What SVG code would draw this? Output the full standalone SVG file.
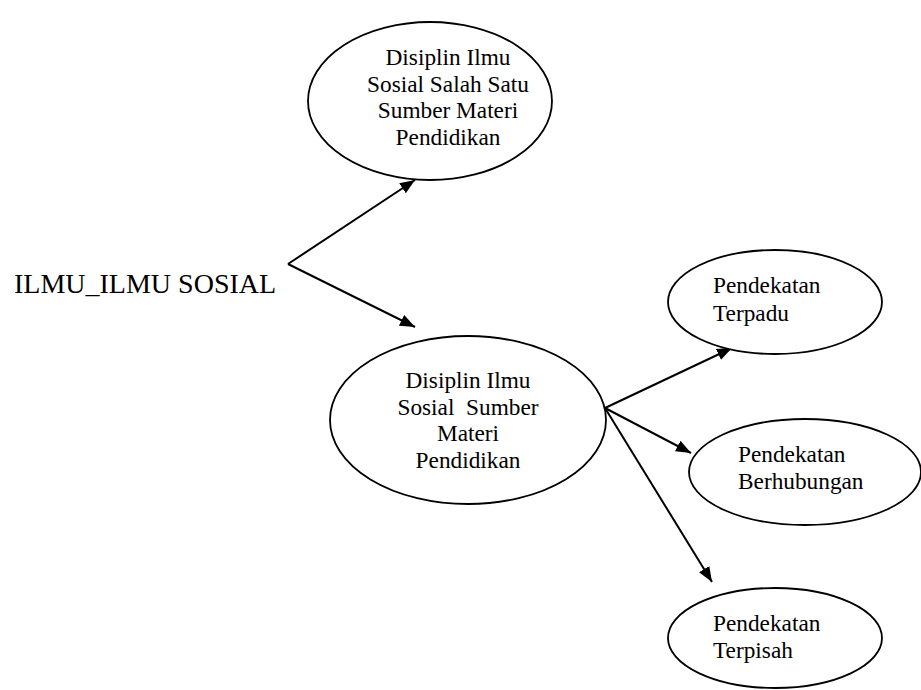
<svg xmlns="http://www.w3.org/2000/svg" width="921" height="690" viewBox="0 0 921 690">
<style>
.node ellipse{fill:#fff;stroke:#000;stroke-width:1.8}
.t{font-family:'Liberation Serif','Times New Roman',serif;font-size:23.3px;fill:#000}
.c{text-anchor:middle}
.edges line{stroke:#000;stroke-width:2}
</style>
<defs>
<marker id="arr" markerUnits="userSpaceOnUse" markerWidth="16" markerHeight="12" refX="15" refY="6" orient="auto">
<path d="M0,0 L15,6 L0,12 z" fill="#000"/>
</marker>
</defs>
<rect width="921" height="690" fill="#fff"/>
<g id="root">
<text class="t" x="14" y="293" style="font-size:28px">ILMU_ILMU SOSIAL</text>
</g>
<g class="edges" id="connectors">
<line x1="288" y1="264" x2="415" y2="180" marker-end="url(#arr)"/>
<line x1="288" y1="264" x2="415" y2="327" marker-end="url(#arr)"/>
<line x1="605" y1="408" x2="732" y2="348" marker-end="url(#arr)"/>
<line x1="605" y1="408" x2="691" y2="453" marker-end="url(#arr)"/>
<line x1="605" y1="408" x2="712" y2="582" marker-end="url(#arr)"/>
</g>
<g class="node" id="node-salah-satu">
<ellipse cx="430" cy="101" rx="122" ry="79"/>
<text class="t c" x="448" y="65">Disiplin Ilmu</text>
<text class="t c" x="448" y="92">Sosial Salah Satu</text>
<text class="t c" x="448" y="118">Sumber Materi</text>
<text class="t c" x="448" y="145">Pendidikan</text>
</g>
<g class="node" id="node-sumber">
<ellipse cx="468" cy="420" rx="138" ry="84"/>
<text class="t c" x="468" y="388">Disiplin Ilmu</text>
<text class="t c" x="468" y="415" xml:space="preserve">Sosial  Sumber</text>
<text class="t c" x="468" y="441">Materi</text>
<text class="t c" x="468" y="468">Pendidikan</text>
</g>
<g class="node" id="node-terpadu">
<ellipse cx="775" cy="302" rx="107" ry="52"/>
<text class="t" x="713" y="293">Pendekatan</text>
<text class="t" x="713" y="321">Terpadu</text>
</g>
<g class="node" id="node-berhubungan">
<ellipse cx="805" cy="472" rx="116" ry="53"/>
<text class="t" x="738" y="462">Pendekatan</text>
<text class="t" x="738" y="489">Berhubungan</text>
</g>
<g class="node" id="node-terpisah">
<ellipse cx="775" cy="638" rx="107" ry="50"/>
<text class="t" x="713" y="631">Pendekatan</text>
<text class="t" x="713" y="658">Terpisah</text>
</g>
</svg>
